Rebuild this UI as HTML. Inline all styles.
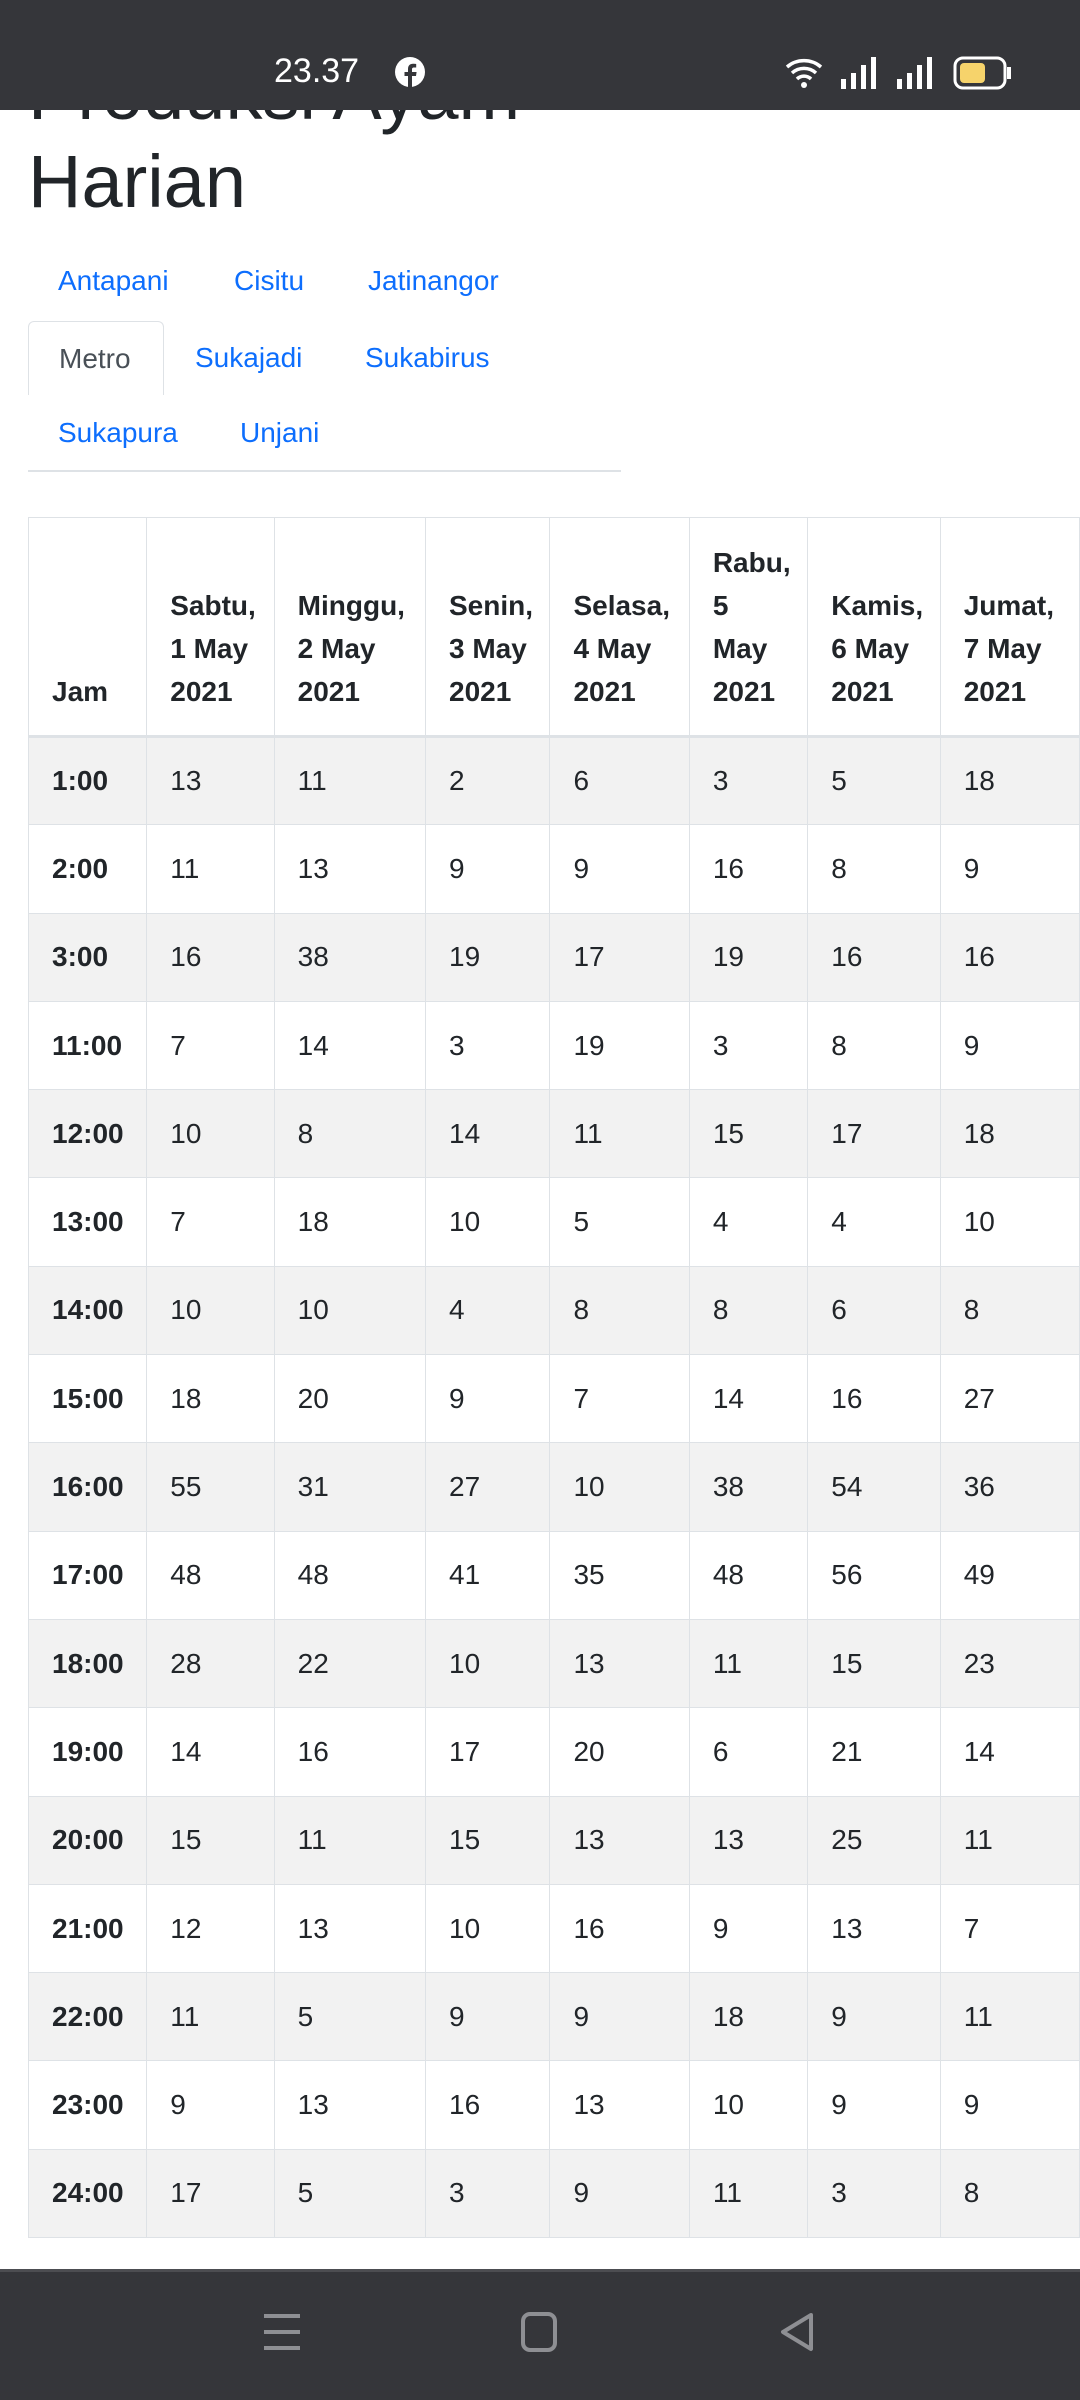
<!DOCTYPE html>
<html><head><meta charset="utf-8">
<style>
*{margin:0;padding:0;box-sizing:border-box}
body{width:1080px;height:2400px;overflow:hidden;background:#fff;font-family:"Liberation Sans",sans-serif;color:#212529;position:relative}
#status{position:absolute;left:0;top:0;width:1080px;height:110px;background:#35363a;z-index:5}
#title{position:absolute;left:28px;top:50px;font-size:74px;line-height:88px;font-weight:500;color:#212529}
.tab{position:absolute;font-size:28px;color:#0d6efd;line-height:74px;height:74px;padding:0 30px}
.tab.active{color:#495057;border:1.5px solid #dee2e6;border-bottom:none;border-radius:6px 6px 0 0;background:#fff}
#tabline{position:absolute;left:28px;top:470px;width:593px;height:2px;background:#dee2e6}
#tbl{position:absolute;left:28px;top:517px;border-collapse:collapse;font-size:28px;table-layout:fixed}
#tbl td,#tbl th{border:1.5px solid #dee2e6;padding:0 0 0 23px;text-align:left;vertical-align:middle}
#tbl thead tr{height:219px}
#tbl th{font-weight:bold;vertical-align:bottom;padding-bottom:22px;line-height:43px;border-bottom:3px solid #dee2e6}
#tbl tbody tr{height:88.3px}
#tbl tbody tr:nth-child(odd){background:#f2f2f2}
#tbl tbody td:first-child{font-weight:bold}
#nav{position:absolute;left:0;top:2269px;width:1080px;height:131px;background:#35363a;border-top:3px solid #4c4d51}
</style></head><body>
<div id="title">Produksi Ayam<br>Harian</div>
<div id="status">
<span style="position:absolute;left:274px;top:52px;font-size:34px;color:#fff">23.37</span>
<svg style="position:absolute;left:395px;top:57px" width="30" height="30"><circle cx="15" cy="15" r="15" fill="#fff"/><path d="M17 30V19h4l.6-4H17v-2.5c0-1.2.4-2 2-2h2.2V7c-.4 0-1.7-.2-3.2-.2-3.1 0-5 1.9-5 5.3V15H9.5v4H13v11z" fill="#35363a"/></svg>
<svg style="position:absolute;left:785px;top:55px" width="230" height="36">
<path d="M2 12a26 26 0 0 1 34 0M7 18a18 18 0 0 1 24 0M12 24a10 10 0 0 1 14 0" stroke="#fff" stroke-width="3.5" fill="none"/><circle cx="19" cy="30" r="3" fill="#fff"/>
<rect x="56" y="24" width="5" height="10" fill="#fff"/><rect x="66" y="18" width="5" height="16" fill="#fff"/><rect x="76" y="10" width="5" height="24" fill="#fff"/><rect x="86" y="2" width="5" height="32" fill="#fff"/>
<rect x="112" y="24" width="5" height="10" fill="#fff"/><rect x="122" y="18" width="5" height="16" fill="#fff"/><rect x="132" y="10" width="5" height="24" fill="#fff"/><rect x="142" y="2" width="5" height="32" fill="#fff"/>
<rect x="170" y="3" width="50" height="30" rx="8" fill="none" stroke="#fff" stroke-width="3"/><rect x="175" y="8" width="25" height="20" rx="4" fill="#f6d36b"/><rect x="222" y="12" width="4" height="12" fill="#fff"/></svg>
</div>
<div class="tab" style="left:28px;top:244px">Antapani</div>
<div class="tab" style="left:204px;top:244px">Cisitu</div>
<div class="tab" style="left:338px;top:244px">Jatinangor</div>
<div class="tab active" style="left:28px;top:321px;width:136px">Metro</div>
<div class="tab" style="left:165px;top:321px">Sukajadi</div>
<div class="tab" style="left:335px;top:321px">Sukabirus</div>
<div class="tab" style="left:28px;top:396px">Sukapura</div>
<div class="tab" style="left:210px;top:396px">Unjani</div>
<div id="tabline"></div>
<table id="tbl"><thead><tr id="hrow"></tr></thead><tbody id="tb"></tbody></table>
<div id="nav">
<svg style="position:absolute;left:262px;top:40px" width="40" height="40"><g fill="#8e8f93"><rect x="2" y="2" width="36" height="4"/><rect x="2" y="18" width="36" height="4"/><rect x="2" y="34" width="36" height="4"/></g></svg>
<svg style="position:absolute;left:520px;top:40px" width="40" height="40"><rect x="3" y="2" width="32" height="36" rx="7" fill="none" stroke="#8e8f93" stroke-width="4"/></svg>
<svg style="position:absolute;left:778px;top:40px" width="40" height="40"><path d="M33 3L5 20l28 17z" fill="none" stroke="#8e8f93" stroke-width="4" stroke-linejoin="round"/></svg>
</div>
<script>
const headers=["Jam","Sabtu,<br>1 May<br>2021","Minggu,<br>2 May<br>2021","Senin,<br>3 May<br>2021","Selasa,<br>4 May<br>2021","Rabu,<br>5<br>May<br>2021","Kamis,<br>6 May<br>2021","Jumat,<br>7 May<br>2021"];
const colWidths=[119,128,152,125,140,119,133,140];
const hours=["1:00","2:00","3:00","11:00","12:00","13:00","14:00","15:00","16:00","17:00","18:00","19:00","20:00","21:00","22:00","23:00","24:00"];
const sabtu=[13,11,16,7,10,7,10,18,55,48,28,14,15,12,11,9,17];
const minggu=[11,13,38,14,8,18,10,20,31,48,22,16,11,13,5,13,5];
const senin=[2,9,19,3,14,10,4,9,27,41,10,17,15,10,9,16,3];
const selasa=[6,9,17,19,11,5,8,7,10,35,13,20,13,16,9,13,9];
const rabu=[3,16,19,3,15,4,8,14,38,48,11,6,13,9,18,10,11];
const kamis=[5,8,16,8,17,4,6,16,54,56,15,21,25,13,9,9,3];
const jumat=[18,9,16,9,18,10,8,27,36,49,23,14,11,7,11,9,8];
const series=[sabtu,minggu,senin,selasa,rabu,kamis,jumat];
const hr=document.getElementById('hrow');
headers.forEach((h,i)=>{const th=document.createElement('th');th.innerHTML=h;th.style.width=colWidths[i]+'px';


hr.appendChild(th);});
const tb=document.getElementById('tb');
hours.forEach((h,r)=>{const tr=document.createElement('tr');


const td0=document.createElement('td');td0.textContent=h;


tr.appendChild(td0);
series.forEach(s=>{const td=document.createElement('td');td.textContent=s[r];


tr.appendChild(td);});
tb.appendChild(tr);});
</script>
</body></html>
